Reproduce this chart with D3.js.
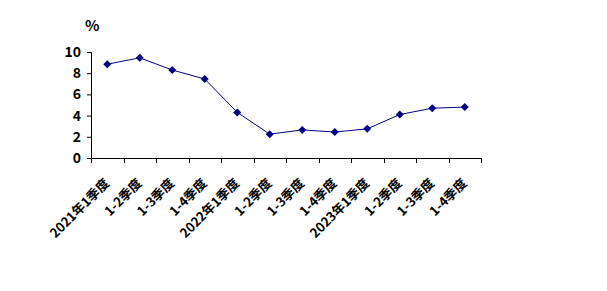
<!DOCTYPE html>
<html>
<head>
<meta charset="utf-8">
<script src="https://cdn.jsdelivr.net/npm/d3@7"></script>
<style>
  body { margin: 0; background: #fff; }
  svg text { font-family: "Noto Sans CJK SC", "DejaVu Sans", sans-serif; font-weight: bold; fill: #000; }
</style>
</head>
<body>
<div id="chart"></div>
<script>
// Negyedéves adatok (kumulált, %)
const categories = ['2021年1季度', '1-2季度', '1-3季度', '1-4季度',
  '2022年1季度', '1-2季度 ', '1-3季度 ', '1-4季度 ',
  '2023年1季度', '1-2季度  ', '1-3季度  ', '1-4季度  '];
const values = [8.85, 9.45, 8.3, 7.45, 4.3, 2.25, 2.65, 2.45, 2.75, 4.1, 4.7, 4.8];
const yTicks = [0, 2, 4, 6, 8, 10];

const width = 607, height = 291;
const mLeft = 91, mRight = 481, mTop = 52, mBottom = 158;

const svg = d3.select('#chart').append('svg')
  .attr('width', width)
  .attr('height', height);

const x = d3.scaleBand().domain(categories).range([mLeft, mRight]);
const y = d3.scaleLinear().domain([0, 10]).range([mBottom, mTop]);

// Y tengely
const yAxis = svg.append('g')
  .attr('transform', `translate(${mLeft},0)`)
  .call(d3.axisLeft(y).tickValues(yTicks).tickSize(4).tickPadding(6));
yAxis.select('.domain').attr('stroke', '#000');
yAxis.selectAll('text').attr('font-size', 14);

// X tengely (tick-ek a sávhatárokon)
svg.append('line')
  .attr('x1', mLeft).attr('x2', mRight)
  .attr('y1', mBottom + 0.5).attr('y2', mBottom + 0.5)
  .attr('stroke', '#000');
const bounds = categories.map(c => x(c)).concat([mRight]);
svg.selectAll('.xtick')
  .data(bounds)
  .join('line')
  .attr('class', 'xtick')
  .attr('x1', d => Math.round(d) + 0.5).attr('x2', d => Math.round(d) + 0.5)
  .attr('y1', mBottom).attr('y2', mBottom + 5)
  .attr('stroke', '#000');

// Elforgatott címkék
svg.selectAll('.xlabel')
  .data(categories)
  .join('text')
  .attr('class', 'xlabel')
  .attr('text-anchor', 'end')
  .attr('font-size', 13)
  .attr('transform', d => `translate(${x(d) + x.bandwidth() / 2 + 3},${mBottom + 26}) rotate(-45)`)
  .text(d => d.trim());

// Vonal
const line = d3.line()
  .x((d, i) => x(categories[i]) + x.bandwidth() / 2)
  .y(d => y(d));
svg.append('path')
  .datum(values)
  .attr('d', line)
  .attr('fill', 'none')
  .attr('stroke', '#000080')
  .attr('stroke-width', 1);

// Rombusz jelölők
svg.selectAll('.pt')
  .data(values)
  .join('path')
  .attr('class', 'pt')
  .attr('d', 'M0,-4L4,0L0,4L-4,0Z')
  .attr('fill', '#000080')
  .attr('transform', (d, i) => `translate(${x(categories[i]) + x.bandwidth() / 2},${y(d)})`);

// Mértékegység
svg.append('text')
  .attr('x', 85)
  .attr('y', 31)
  .attr('font-size', 15)
  .text('%');
</script>
</body>
</html>
